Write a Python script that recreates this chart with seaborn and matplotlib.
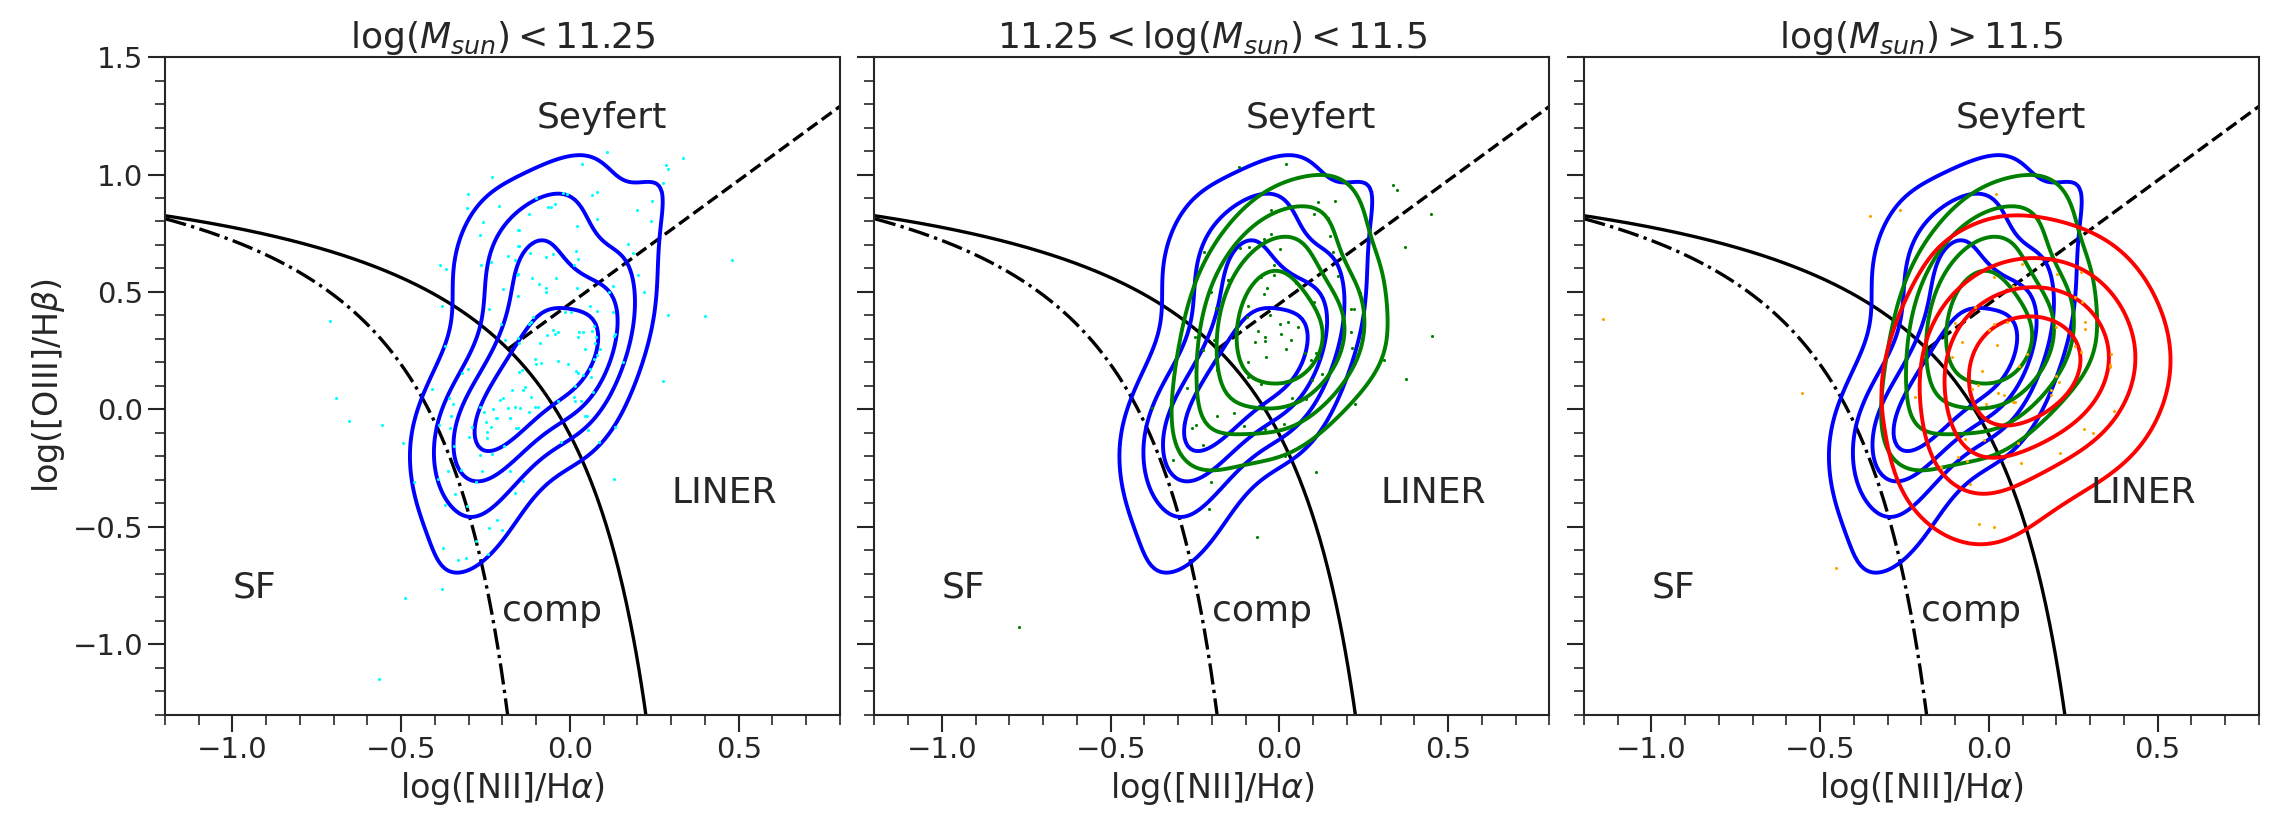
import matplotlib
matplotlib.use("Agg")
import matplotlib.pyplot as plt
import numpy as np
import seaborn as sns
from matplotlib.ticker import MultipleLocator

# log(M) < 11.25 sample (cyan points, blue contours)
LOW_X = [
    -0.232, -0.302, -0.209, -0.304, -0.258, -0.267, -0.386, -0.366, -0.264, -0.235,
    -0.183, -0.162, -0.158, -0.197, -0.380, -0.239, -0.711, -0.205, -0.192, -0.371,
    -0.301, -0.320, -0.410, -0.692, -0.357, -0.347, -0.268, -0.172, -0.199, -0.207,
    -0.184, -0.162, -0.256, -0.229, -0.218, -0.179, -0.352, -0.153, -0.153,
    0.111, 0.335, 0.035, 0.286, 0.291, 0.276, -0.021, -0.009, 0.064, 0.080,
    -0.102, -0.064, -0.056, -0.045, 0.242, 0.199, -0.122, 0.079, 0.239, 0.020,
    -0.152, -0.152, 0.172, 0.187, -0.117, -0.051, -0.070, 0.018, 0.025, 0.012,
    0.479, -0.155, 0.203, -0.112, -0.092, -0.040, -0.072, -0.070, 0.022, 0.128,
    0.115, 0.218, -0.153, 0.081, 0.129, 0.059, 0.291, 0.401, 0.002, -0.016,
    -0.110, -0.115, -0.120, -0.051, -0.036, -0.043, -0.067, 0.028, 0.039, 0.066,
    0.071, 0.023, 0.134, 0.132, 0.077, -0.155, -0.152, -0.090, 0.044, 0.073,
    0.088, 0.081, 0.070, -0.105, -0.085, -0.101, -0.036, -0.006, 0.157, -0.143,
    -0.150, 0.058, 0.019, 0.023, 0.039, 0.063, 0.276, -0.132, -0.138, -0.115,
    0.015, 0.068, 0.012, 0.014, 0.033, -0.105, -0.095, -0.120, -0.036, -0.147,
    0.046,
    -0.656, -0.557, -0.496, -0.387, -0.352, -0.355, -0.291, -0.248, -0.217, -0.179,
    -0.234, -0.245, -0.246, -0.159, -0.299, -0.344, -0.194, -0.232, -0.266, -0.323,
    -0.362, -0.260, -0.179, -0.392, -0.278, -0.463, -0.164, -0.340, -0.305, -0.369,
    -0.216, -0.241, -0.202, -0.278, -0.377, -0.331, -0.308, -0.244, -0.380, -0.488,
    -0.567,
    0.051, 0.133, 0.086, -0.026, 0.053, 0.132, -0.140, -0.155,
]
LOW_Y = [
    0.989, 0.915, 0.867, 0.858, 0.797, 0.742, 0.614, 0.597, 0.614, 0.626,
    0.651, 0.637, 0.573, 0.512, 0.439, 0.426, 0.376, 0.362, 0.296, 0.271,
    0.171, 0.155, 0.087, 0.048, 0.048, 0.022, 0.012, 0.084, 0.050, 0.040,
    0.008, 0.012, -0.013, 0.001, -0.035, -0.035, -0.026, 0.763, 0.696,
    1.095, 1.071, 1.044, 1.040, 1.025, 0.962, 0.922, 0.919, 0.912, 0.926,
    0.898, 0.862, 0.862, 0.874, 0.888, 0.848, 0.831, 0.810, 0.804, 0.782,
    0.763, 0.695, 0.706, 0.664, 0.668, 0.661, 0.647, 0.675, 0.641, 0.614,
    0.638, 0.576, 0.572, 0.560, 0.534, 0.560, 0.518, 0.498, 0.517, 0.527,
    0.500, 0.501, 0.483, 0.417, 0.413, 0.440, 0.402, 0.398, 0.416, 0.413,
    0.392, 0.373, 0.362, 0.338, 0.331, 0.320, 0.315, 0.331, 0.328, 0.335,
    0.356, 0.310, 0.321, 0.312, 0.310, 0.303, 0.284, 0.281, 0.256, 0.281,
    0.256, 0.232, 0.215, 0.213, 0.196, 0.192, 0.208, 0.193, 0.202, 0.168,
    0.161, 0.172, 0.164, 0.154, 0.147, 0.140, 0.121, 0.097, 0.083, 0.055,
    0.098, 0.076, 0.055, 0.037, 0.037, 0.012, 0.009, -0.009, 0.036, 0.008,
    -0.030,
    -0.050, -0.066, -0.144, -0.066, -0.028, -0.080, -0.076, -0.052, -0.038, -0.035,
    -0.076, -0.097, -0.123, -0.080, -0.117, -0.154, -0.154, -0.189, -0.195, -0.257,
    -0.264, -0.264, -0.264, -0.297, -0.311, -0.310, -0.355, -0.361, -0.409, -0.406,
    -0.471, -0.505, -0.515, -0.558, -0.590, -0.641, -0.633, -0.616, -0.763, -0.803,
    -1.146,
    -0.030, -0.074, -0.140, -0.137, -0.086, -0.297, -0.304, -0.080,
]

# 11.25 < log(M) < 11.5 sample (green)
MID_X = [
    -0.225, -0.152, -0.204, -0.188, -0.193, -0.249, -0.227, -0.186, -0.275, -0.378,
    -0.185, -0.247, -0.260, -0.227, -0.314, -0.202, -0.209, -0.771,
    -0.121, 0.018, 0.160, 0.335, 0.349, 0.114, 0.165, 0.102, 0.144, 0.450,
    -0.024, 0.149, -0.046, -0.026, -0.118, -0.089, 0.003, 0.160, 0.371, -0.017,
    -0.151, -0.056, -0.015, 0.173, 0.050, -0.036, -0.046, 0.238, -0.094, -0.029,
    0.213, 0.221, 0.102, 0.114, -0.064, -0.096, 0.003, 0.025, 0.055, 0.005,
    -0.044, -0.042, -0.071, 0.035, 0.213, 0.020, 0.076, 0.107, 0.117, 0.094,
    -0.039, 0.216, 0.309, 0.453, 0.310, -0.094, -0.094, -0.056, 0.068, 0.096,
    0.127, 0.134, 0.038, 0.079, 0.223, 0.375, -0.104, -0.044, 0.013, -0.135,
    0.015, 0.109, -0.067,
]
MID_Y = [
    0.671, 0.551, 0.501, 0.430, 0.296, 0.310, 0.253, 0.168, 0.090, 0.005,
    -0.030, -0.066, -0.080, -0.151, -0.215, -0.310, -0.423, -0.928,
    1.032, 1.044, 0.994, 0.954, 0.933, 0.881, 0.888, 0.834, 0.816, 0.830,
    0.848, 0.739, 0.726, 0.746, 0.689, 0.692, 0.685, 0.671, 0.692, 0.614,
    0.551, 0.565, 0.572, 0.570, 0.539, 0.518, 0.490, 0.494, 0.440, 0.402,
    0.426, 0.426, 0.456, 0.399, 0.334, 0.395, 0.362, 0.373, 0.349, 0.320,
    0.307, 0.291, 0.286, 0.296, 0.328, 0.256, 0.242, 0.239, 0.218, 0.210,
    0.223, 0.260, 0.260, 0.314, 0.210, 0.203, 0.140, 0.107, 0.151, 0.125,
    0.151, 0.128, 0.050, 0.043, 0.023, 0.131, -0.070, -0.084, -0.062, -0.016,
    -0.200, -0.267, -0.545,
]

# log(M) > 11.5 sample (orange points, red contours)
HIGH_X = [
    -1.144, -0.555, -0.453, -0.352, -0.263, 0.020,
    0.098, 0.015, 0.202, 0.071, 0.274, -0.041, 0.256, 0.277, -0.102, 0.014,
    0.000, 0.053, 0.286, 0.284, 0.200, -0.080, 0.024, -0.110, 0.113, 0.256,
    0.272, 0.361, 0.358, 0.360, -0.020, 0.089, 0.200, -0.218, -0.033, -0.051,
    0.028, 0.044, 0.071, 0.078, 0.185, 0.183, -0.008, 0.208, 0.371, 0.282,
    0.308, -0.072, -0.016, 0.086, 0.211, -0.092, -0.065, 0.096, -0.142, -0.055,
    -0.028, 0.015,
]
HIGH_Y = [
    0.383, 0.069, -0.673, 0.824, 0.847, 0.919,
    0.619, 0.565, 0.575, 0.525, 0.586, 0.437, 0.480, 0.458, 0.366, 0.363,
    0.338, 0.373, 0.373, 0.342, 0.349, 0.287, 0.274, 0.222, 0.236, 0.270,
    0.246, 0.235, 0.189, 0.179, 0.165, 0.185, 0.142, 0.055, 0.104, 0.087,
    0.069, 0.062, 0.030, 0.030, 0.083, 0.062, 0.023, 0.115, -0.005, -0.083,
    -0.101, -0.127, -0.130, -0.144, -0.186, -0.201, -0.218, -0.226, -0.243, -0.317,
    -0.487, -0.501,
]

TITLES = [
    r"$\log(M_{sun}) < 11.25$",
    r"$11.25 < \log(M_{sun}) < 11.5$",
    r"$\log(M_{sun}) > 11.5$",
]

# demarcation lines (Kewley 2001, Kauffmann 2003, Schawinski 2007)
KEWLEY = (0.61, 0.47, 1.19)
KAUFFMANN = (0.61, 0.05, 1.3)
SCHAWINSKI = (1.05, 0.45)

TEXT = "#262626"

sns.set_theme(style="ticks")
plt.rcParams["font.family"] = ["DejaVu Sans"]
plt.rcParams.update({
    "axes.edgecolor": TEXT,
    "axes.linewidth": 1.5,
    "xtick.color": TEXT,
    "ytick.color": TEXT,
    "xtick.major.size": 12,
    "ytick.major.size": 12,
    "xtick.minor.size": 7,
    "ytick.minor.size": 7,
    "xtick.major.width": 1.5,
    "ytick.major.width": 1.5,
    "xtick.minor.width": 1.2,
    "ytick.minor.width": 1.2,
    "xtick.labelsize": 21,
    "ytick.labelsize": 21,
    "axes.labelsize": 24,
    "axes.titlesize": 26,
    "text.color": TEXT,
    "axes.labelcolor": TEXT,
})

fig, axes = plt.subplots(1, 3, figsize=(22.91, 8.39), dpi=100, sharey=True)
fig.subplots_adjust(left=0.072, right=0.986, top=0.932, bottom=0.148, wspace=0.0511)


def draw_lines(ax):
    a, b, c = KEWLEY
    xk = np.linspace(-1.3, 0.3, 400)
    ax.plot(xk, a / (xk - b) + c, color="black", lw=2.4)
    a, b, c = KAUFFMANN
    xf = np.linspace(-1.3, -0.05, 400)
    ax.plot(xf, a / (xf - b) + c, color="black", lw=2.4, ls="-.")
    m, q = SCHAWINSKI
    xs = np.linspace(-0.1838, 0.9, 50)
    ax.plot(xs, m * xs + q, color="black", lw=2.4, ls="--")
    for x, y, s in [(-0.1, 1.2, "Seyfert"), (0.3, -0.4, "LINER"),
                    (-1.0, -0.8, "SF"), (-0.2, -0.9, "comp")]:
        ax.text(x, y, s, fontsize=26, color=TEXT)


# x, y, dot colour, contour colour, lowest iso-proportion
samples = [
    (LOW_X, LOW_Y, "cyan", "blue", 0.22),
    (MID_X, MID_Y, "green", "green", 0.3),
    (HIGH_X, HIGH_Y, "orange", "red", 0.2),
]

for i, ax in enumerate(axes):
    draw_lines(ax)
    px, py, dot_color, _, _ = samples[i]
    ax.scatter(px, py, s=5, color=dot_color, linewidths=0, zorder=3)
    for j in range(i + 1):
        sx, sy, _, line_color, thresh = samples[j]
        sns.kdeplot(x=sx, y=sy, levels=5, thresh=thresh, bw_adjust=1.15,
                    color=line_color, linewidths=2.8, ax=ax)

    ax.set_xlim(-1.2, 0.8)
    ax.set_ylim(-1.3, 1.5)
    ax.xaxis.set_major_locator(MultipleLocator(0.5))
    ax.xaxis.set_minor_locator(MultipleLocator(0.1))
    ax.yaxis.set_major_locator(MultipleLocator(0.5))
    ax.yaxis.set_minor_locator(MultipleLocator(0.1))
    ax.set_title(TITLES[i])
    ax.set_xlabel(r"log([NII]/H$\alpha$)")
    ax.set_ylabel("")

axes[0].set_ylabel(r"log([OIII]/H$\beta$)")

fig.savefig("out.png", dpi=100)
